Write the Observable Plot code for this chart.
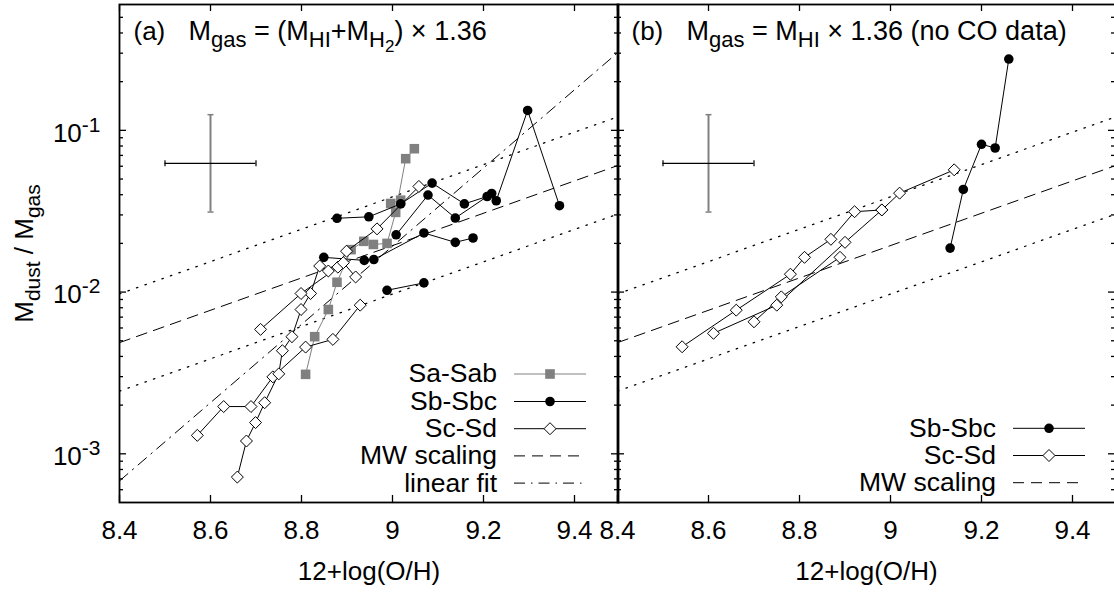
<!DOCTYPE html>
<html><head><meta charset="utf-8">
<script src="https://cdn.jsdelivr.net/npm/d3@7"></script>
<script src="https://cdn.jsdelivr.net/npm/@observablehq/plot@0.6"></script>
<style>
body{margin:0;background:#fff;}
#wrap{position:relative;width:1114px;height:593px;overflow:hidden;background:#fff;}
#wrap svg{position:absolute;top:0;overflow:visible;}
</style></head><body><div id="wrap"></div>
<script>
// ---------------- data ----------------
const xTicks = [8.4, 8.6, 8.8, 9.0, 9.2, 9.4];
const xTickLabels = ["8.4", "8.6", "8.8", "9", "9.2", "9.4"];
const yMajor = [1e-3, 1e-2, 1e-1];
const yTickLabels = ["10^-3", "10^-2", "10^-1"];
const yMinor = [6e-4, 7e-4, 8e-4, 9e-4, 2e-3, 3e-3, 4e-3, 5e-3, 6e-3, 7e-3, 8e-3, 9e-3,
  2e-2, 3e-2, 4e-2, 5e-2, 6e-2, 7e-2, 8e-2, 9e-2, 2e-1, 3e-1, 4e-1, 5e-1];

// panel (a): galaxy tracks, each point = [12+log(O/H), Mdust/Mgas]
const aSaSab = [
  [[8.809, 0.0031], [8.829, 0.0053], [8.859, 0.0078], [8.878, 0.0115], [8.909, 0.0183], [8.937, 0.0206], [8.958, 0.0197], [8.988, 0.0200], [9.007, 0.0311], [9.029, 0.0668], [9.048, 0.077]],
  [[8.996, 0.0353], [9.018, 0.037]]
];
const aSbSbc = [
  [[8.878, 0.0286], [8.948, 0.0292], [9.018, 0.0351], [9.087, 0.0472], [9.158, 0.0351], [9.208, 0.039]],
  [[8.849, 0.0164], [8.938, 0.0157], [8.959, 0.0159], [9.069, 0.0232], [9.138, 0.0203], [9.177, 0.0216]],
  [[9.008, 0.0226], [9.078, 0.0398], [9.138, 0.0287], [9.218, 0.0407], [9.228, 0.0367], [9.297, 0.1327], [9.367, 0.0342]],
  [[8.988, 0.01026], [9.069, 0.0114]]
];
const aScSd = [
  [[8.571, 0.0013], [8.629, 0.00196], [8.689, 0.00196], [8.737, 0.00299], [8.809, 0.00457], [8.869, 0.0051], [8.929, 0.0083]],
  [[8.659, 0.000718], [8.679, 0.0012], [8.699, 0.00156], [8.719, 0.00207], [8.750, 0.00312], [8.758, 0.00434], [8.779, 0.0053], [8.799, 0.0078], [8.820, 0.0098], [8.840, 0.0145], [8.859, 0.0135]],
  [[8.710, 0.00588], [8.799, 0.0098], [8.880, 0.01426], [8.899, 0.0179], [8.966, 0.0246], [9.058, 0.045]],
  [[8.892, 0.0152], [8.919, 0.0124]]
];
// panel (b)
const bSbSbc = [
  [[9.131, 0.0187], [9.160, 0.0431], [9.200, 0.082], [9.230, 0.0778], [9.260, 0.276]]
];
const bScSd = [
  [[8.542, 0.00459], [8.661, 0.00773], [8.780, 0.0129], [8.811, 0.0164], [8.869, 0.0212], [8.921, 0.0314], [8.981, 0.0322], [9.020, 0.0409], [9.140, 0.057]],
  [[8.611, 0.00556], [8.750, 0.0083], [8.900, 0.0203], [8.981, 0.0322]],
  [[8.700, 0.00655], [8.760, 0.00934], [8.889, 0.0164]]
];

// reference relations
const refZ = [8.4, 9.5];
const mwDG = [0.00487, 0.0613];
const mwHighDG = [0.00974, 0.1226];
const mwLowDG = [0.00244, 0.0307];
const fitDG = [0.00068, 0.311];

// typical uncertainty cross
const errZ = [8.6], errZlo = [8.5], errZhi = [8.7];
const errDG = [0.0625], errDGlo = [0.03125], errDGhi = [0.125];

// ---------------- helpers ----------------
const FONT = '"Liberation Sans", Arial, Helvetica, sans-serif';
const H = 593, TOP = 4, BOTTOM = 91, PXU = 455;
const GRAY = "#808080";
const tracksToRows = tr => tr.flatMap((t, i) => t.map(([x, y]) => ({x, y, g: i})));
const refRows = ys => refZ.map((x, i) => ({x, y: ys[i]}));
const errRows = errZ.map((x, i) => ({x, xlo: errZlo[i], xhi: errZhi[i], y: errDG[i], ylo: errDGlo[i], yhi: errDGhi[i]}));
const vbar = {draw(c, s) { const r = Math.sqrt(s / Math.PI); c.moveTo(0, -r); c.lineTo(0, r); }};
const hbar = {draw(c, s) { const r = Math.sqrt(s / Math.PI); c.moveTo(-r, 0); c.lineTo(r, 0); }};

const rich = {
  "10^-3": [["10"], ["-3", "sup"]],
  "10^-2": [["10"], ["-2", "sup"]],
  "10^-1": [["10"], ["-1", "sup"]],
  "TA": [["M"], ["gas", "sub"], [" = (M"], ["HI", "sub"], ["+M"], ["H", "sub"], ["2", "subsub"], [") × 1.36"]],
  "TB": [["M"], ["gas", "sub"], [" = M"], ["HI", "sub"], [" × 1.36 (no CO data)"]],
  "YL": [["M"], ["dust", "sub"], [" / M"], ["gas", "sub"]]
};
function applyRich(svg, key, opts) {
  svg.querySelectorAll("text").forEach(t => {
    if (t.textContent !== key) return;
    t.textContent = "";
    let cur = 0;
    for (const [s, type = ""] of rich[key]) {
      const [off, fs] = opts[type];
      const ts = document.createElementNS("http://www.w3.org/2000/svg", "tspan");
      ts.setAttribute("dy", off - cur);
      if (fs) ts.setAttribute("font-size", fs);
      ts.textContent = s;
      t.appendChild(ts);
      cur = off;
    }
  });
}
const TICKOPT = {"": [0, null], sup: [-10, 21]};
const TITLEOPT = {"": [0, null], sub: [7, 22], subsub: [12, 17]};
const YLOPT = {"": [0, null], sub: [7, 21]};

function makePanel({left, width, mL, tracks, fit, titleTag, titleKey, yLabels, legend}) {
  const fw = width - mL, fh = H - TOP - BOTTOM;
  const marks = [];
  // reference lines
  marks.push(Plot.line(refRows(mwHighDG), {x: "x", y: "y", stroke: "black", strokeWidth: 1.3, strokeDasharray: "1.5,7.5", clip: true}));
  marks.push(Plot.line(refRows(mwLowDG), {x: "x", y: "y", stroke: "black", strokeWidth: 1.3, strokeDasharray: "1.5,7.5", clip: true}));
  marks.push(Plot.line(refRows(mwDG), {x: "x", y: "y", stroke: "black", strokeWidth: 1, strokeDasharray: "11,7", clip: true}));
  if (fit) marks.push(Plot.line(refRows(fitDG), {x: "x", y: "y", stroke: "black", strokeWidth: 1, strokeDasharray: "11,6,1.5,6", clip: true}));
  // uncertainty cross
  marks.push(Plot.ruleX(errRows, {x: "x", y1: "ylo", y2: "yhi", stroke: GRAY, strokeWidth: 2}));
  marks.push(Plot.dot(errRows, {x: "x", y: "ylo", symbol: hbar, r: 3, stroke: GRAY, strokeWidth: 1.5}));
  marks.push(Plot.dot(errRows, {x: "x", y: "yhi", symbol: hbar, r: 3, stroke: GRAY, strokeWidth: 1.5}));
  marks.push(Plot.ruleY(errRows, {y: "y", x1: "xlo", x2: "xhi", stroke: "black", strokeWidth: 1.2}));
  marks.push(Plot.dot(errRows, {x: "xlo", y: "y", symbol: vbar, r: 3, stroke: "black", strokeWidth: 1.2}));
  marks.push(Plot.dot(errRows, {x: "xhi", y: "y", symbol: vbar, r: 3, stroke: "black", strokeWidth: 1.2}));
  // data
  if (tracks.sa) {
    const r = tracksToRows(tracks.sa);
    marks.push(Plot.line(r, {x: "x", y: "y", z: "g", stroke: GRAY, strokeWidth: 1}));
    marks.push(Plot.dot(r, {x: "x", y: "y", symbol: "square", r: 5.4, fill: GRAY}));
  }
  if (tracks.sb) {
    const r = tracksToRows(tracks.sb);
    marks.push(Plot.line(r, {x: "x", y: "y", z: "g", stroke: "black", strokeWidth: 1}));
    marks.push(Plot.dot(r, {x: "x", y: "y", r: 4.8, fill: "black"}));
  }
  if (tracks.sc) {
    const r = tracksToRows(tracks.sc);
    marks.push(Plot.line(r, {x: "x", y: "y", z: "g", stroke: "black", strokeWidth: 1}));
    marks.push(Plot.dot(r, {x: "x", y: "y", symbol: "diamond2", r: 5.4, stroke: "black", strokeWidth: 1, fill: "white"}));
  }
  // ticks (inward, mirrored)
  const tk = {stroke: "black", strokeWidth: 1.3};
  marks.push(Plot.ruleX(xTicks, {x: d => d, insetTop: fh - 7, ...tk}));
  marks.push(Plot.ruleX(xTicks, {x: d => d, insetBottom: fh - 7, ...tk}));
  marks.push(Plot.ruleY(yMajor, {y: d => d, insetRight: fw - 7, ...tk}));
  marks.push(Plot.ruleY(yMajor, {y: d => d, insetLeft: fw - 7, ...tk}));
  marks.push(Plot.ruleY(yMinor, {y: d => d, insetRight: fw - 4, ...tk}));
  marks.push(Plot.ruleY(yMinor, {y: d => d, insetLeft: fw - 4, ...tk}));
  marks.push(Plot.frame({stroke: "black", strokeWidth: 1.8}));
  // tick labels
  marks.push(Plot.text(xTicks, {x: d => d, text: (d, i) => xTickLabels[i], frameAnchor: "bottom", dy: 28, fontSize: 26, lineAnchor: "middle"}));
  if (yLabels) {
    marks.push(Plot.text(yMajor, {y: d => d, text: (d, i) => yTickLabels[i], frameAnchor: "left", dx: -19, dy: 3, textAnchor: "end", fontSize: 26, lineAnchor: "middle"}));
    marks.push(Plot.text(["YL"], {frameAnchor: "left", dx: -95, rotate: -90, fontSize: 26, textAnchor: "middle", lineAnchor: "middle"}));
  }
  marks.push(Plot.text(["12+log(O/H)"], {frameAnchor: "bottom", dy: 69, fontSize: 26, textAnchor: "middle", lineAnchor: "middle"}));
  // titles
  marks.push(Plot.text([titleTag], {frameAnchor: "top-left", dx: 14, dy: 27, fontSize: 26, textAnchor: "start", lineAnchor: "middle"}));
  marks.push(Plot.text([titleKey], {frameAnchor: "top-left", dx: 69, dy: 27, fontSize: 27, textAnchor: "start", lineAnchor: "middle"}));

  const svg = Plot.plot({
    width, height: H, marginLeft: mL, marginRight: 0, marginTop: TOP, marginBottom: BOTTOM,
    style: {fontFamily: FONT, background: "transparent", color: "black"},
    x: {type: "linear", domain: [8.4, 8.4 + fw / PXU], axis: null},
    y: {type: "log", domain: [5e-4, 0.6], axis: null},
    marks
  });
  ["10^-3", "10^-2", "10^-1"].forEach(k => applyRich(svg, k, TICKOPT));
  applyRich(svg, "TA", TITLEOPT);
  applyRich(svg, "TB", TITLEOPT);
  applyRich(svg, "YL", YLOPT);
  svg.style.left = left + "px";
  // legend
  const g = d3.select(svg).append("g").attr("font-family", FONT).attr("font-size", 26.5);
  legend.items.forEach((it, i) => {
    const y = legend.rows[i];
    g.append("text").attr("x", legend.textRight).attr("y", y).attr("dy", "0.32em").attr("text-anchor", "end").attr("fill", "black").text(it.label);
    g.append("line").attr("x1", legend.x1).attr("x2", legend.x2).attr("y1", y).attr("y2", y)
      .attr("stroke", it.stroke).attr("stroke-width", 1).attr("stroke-dasharray", it.dash || null);
    const xm = (legend.x1 + legend.x2) / 2;
    if (it.marker === "square") g.append("rect").attr("x", xm - 4.8).attr("y", y - 4.8).attr("width", 9.6).attr("height", 9.6).attr("fill", GRAY);
    if (it.marker === "circle") g.append("circle").attr("cx", xm).attr("cy", y).attr("r", 4.8).attr("fill", "black");
    if (it.marker === "diamond") g.append("path").attr("d", `M${xm},${y - 6}L${xm + 6},${y}L${xm},${y + 6}L${xm - 6},${y}Z`).attr("fill", "white").attr("stroke", "black");
  });
  return svg;
}

const itSa = {label: "Sa-Sab", stroke: GRAY, marker: "square"};
const itSb = {label: "Sb-Sbc", stroke: "black", marker: "circle"};
const itSc = {label: "Sc-Sd", stroke: "black", marker: "diamond"};
const itMW = {label: "MW scaling", stroke: "black", dash: "11,7"};
const itFit = {label: "linear fit", stroke: "black", dash: "11,6,1.5,6"};

const wrap = document.getElementById("wrap");
wrap.appendChild(makePanel({
  left: 0, width: 618, mL: 119,
  tracks: {sa: aSaSab, sb: aSbSbc, sc: aScSd}, fit: true,
  titleTag: "(a)", titleKey: "TA", yLabels: true,
  legend: {items: [itSa, itSb, itSc, itMW, itFit], rows: [374, 401.5, 428.7, 455.9, 483.1], textRight: 497, x1: 514, x2: 586}
}));
wrap.appendChild(makePanel({
  left: 617, width: 498, mL: 0,
  tracks: {sb: bSbSbc, sc: bScSd}, fit: false,
  titleTag: "(b)", titleKey: "TB", yLabels: false,
  legend: {items: [itSb, itSc, itMW], rows: [428.3, 455.5, 482.7], textRight: 379, x1: 396, x2: 468}
}));
</script>
</body></html>
